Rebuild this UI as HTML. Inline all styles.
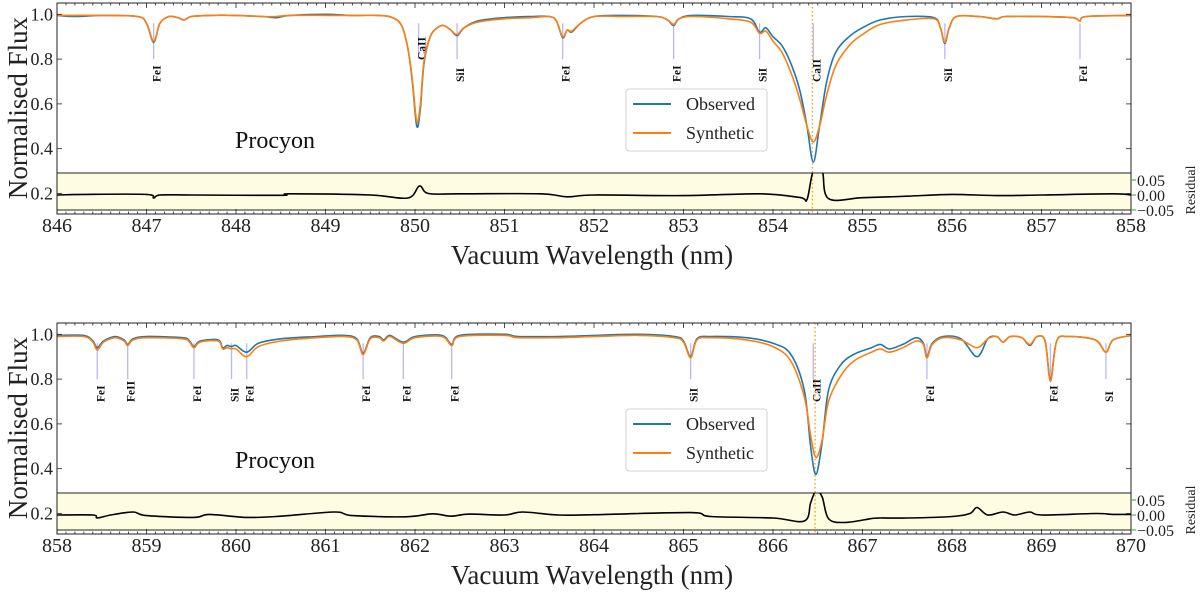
<!DOCTYPE html>
<html><head><meta charset="utf-8">
<style>
html,body{margin:0;padding:0;background:#fff;}
svg{display:block;font-family:"Liberation Serif","DejaVu Serif",serif;}
</style></head>
<body>
<svg id="chart" width="1200" height="593" viewBox="0 0 1200 593"></svg>
<script>
// ---------- data: top panel (846-858 nm) ----------
const topObsWl = [846.0,846.2,846.5,846.9,847.0,847.08,847.15,847.25,847.35,847.42,847.5,847.7,848.0,848.3,848.45,848.6,849.0,849.3,849.6,849.75,849.85,849.92,849.97,850.02,850.06,850.1,850.17,850.25,850.32,850.4,850.47,850.55,850.7,851.0,851.3,851.5,851.58,851.65,851.7,851.75,851.85,852.0,852.3,852.7,852.82,852.89,852.95,853.1,853.5,853.75,853.85,853.92,854.0,854.1,854.2,854.3,854.38,854.45,854.52,854.6,854.7,854.85,855.0,855.2,855.5,855.8,855.87,855.92,855.97,856.05,856.3,856.5,856.6,857.0,857.35,857.43,857.5,858.0];
const topObsFlux = [0.995,0.99,0.995,0.99,0.96,0.875,0.96,0.99,0.985,0.975,0.99,0.995,0.995,0.99,0.985,0.995,1.0,0.995,0.995,0.985,0.95,0.85,0.7,0.5,0.58,0.78,0.9,0.94,0.95,0.93,0.905,0.94,0.97,0.985,0.99,0.99,0.97,0.895,0.93,0.92,0.96,0.99,0.995,0.99,0.975,0.95,0.98,0.995,0.99,0.98,0.92,0.94,0.9,0.86,0.78,0.66,0.5,0.34,0.5,0.7,0.83,0.9,0.94,0.975,0.99,0.985,0.94,0.87,0.94,0.99,0.99,0.98,0.99,0.99,0.985,0.97,0.99,0.995];
const topSynFlux = [0.995,0.995,0.995,0.99,0.96,0.88,0.96,0.99,0.985,0.975,0.99,0.995,0.995,0.99,0.99,0.995,0.995,0.995,0.995,0.985,0.95,0.85,0.71,0.52,0.6,0.79,0.9,0.94,0.95,0.93,0.91,0.94,0.965,0.98,0.985,0.99,0.97,0.9,0.93,0.925,0.96,0.99,0.99,0.99,0.975,0.955,0.98,0.99,0.98,0.965,0.915,0.925,0.88,0.83,0.74,0.62,0.5,0.43,0.5,0.64,0.77,0.86,0.91,0.955,0.975,0.98,0.94,0.875,0.94,0.99,0.99,0.98,0.99,0.99,0.985,0.97,0.99,0.995];
const topResWl = [846.0,846.3,847.0,847.08,847.15,847.5,848.5,848.6,849.5,849.92,850.05,850.15,850.5,851.4,851.7,852.0,853.0,853.85,854.3,854.38,854.45,854.55,854.62,855.0,855.5,856.0,856.5,857.0,857.8,858.0];
const topResVal = [0.0,0.002,0.002,-0.01,0.0,0.0,-0.001,0.004,0.0,-0.01,0.03,0.005,0.004,0.004,-0.006,0.0,-0.002,0.004,-0.008,-0.015,0.08,0.08,-0.012,-0.009,-0.004,0.002,-0.002,0.0,0.004,0.0];

// ---------- data: bottom panel (858-870 nm) ----------
const botObsWl = [858.0,858.3,858.4,858.45,858.52,858.65,858.75,858.79,858.85,859.0,859.4,859.48,859.53,859.6,859.8,859.85,859.9,859.95,860.0,860.12,860.25,860.5,860.9,861.2,861.35,861.42,861.5,861.6,861.65,861.72,861.87,862.0,862.3,862.41,862.5,863.0,863.15,863.6,864.0,864.5,864.9,865.0,865.08,865.15,865.3,865.7,866.0,866.2,866.35,866.42,866.48,866.55,866.62,866.75,866.9,867.1,867.2,867.3,867.45,867.6,867.68,867.72,867.78,867.9,868.1,868.28,868.4,868.5,868.57,868.65,868.78,868.87,868.95,869.04,869.1,869.17,869.3,869.6,869.72,869.8,870.0];
const botObsFlux = [0.995,0.995,0.97,0.94,0.97,0.99,0.975,0.955,0.98,0.99,0.985,0.97,0.945,0.97,0.975,0.94,0.95,0.945,0.95,0.92,0.96,0.98,0.99,0.995,0.98,0.915,0.985,0.99,0.975,0.995,0.965,0.99,0.995,0.955,0.995,1.0,0.99,0.99,0.995,1.0,0.99,0.97,0.9,0.98,0.99,0.985,0.96,0.91,0.75,0.5,0.375,0.52,0.75,0.86,0.91,0.94,0.955,0.935,0.955,0.985,0.96,0.9,0.96,0.99,0.98,0.9,0.98,0.99,0.965,0.99,0.985,0.95,0.99,0.97,0.8,0.97,0.99,0.975,0.92,0.975,0.995];
const botSynFlux = [0.99,0.99,0.965,0.93,0.965,0.985,0.97,0.95,0.975,0.985,0.98,0.965,0.94,0.965,0.97,0.935,0.94,0.935,0.935,0.9,0.945,0.97,0.985,0.99,0.975,0.91,0.98,0.985,0.97,0.99,0.96,0.985,0.99,0.95,0.99,0.995,0.985,0.985,0.99,0.995,0.985,0.965,0.895,0.975,0.985,0.975,0.945,0.88,0.72,0.55,0.45,0.53,0.7,0.81,0.88,0.92,0.935,0.92,0.94,0.97,0.955,0.895,0.955,0.985,0.975,0.94,0.98,0.99,0.965,0.99,0.985,0.955,0.99,0.97,0.79,0.97,0.99,0.975,0.92,0.975,0.995];
const botResWl = [858.0,858.4,858.45,858.6,858.85,859.0,859.53,859.7,860.12,860.5,861.1,861.3,861.9,862.2,862.4,862.6,863.0,863.2,863.6,864.0,865.08,865.3,866.0,866.35,866.42,866.48,866.55,866.62,866.8,867.1,867.2,867.5,868.0,868.2,868.28,868.4,868.57,868.7,868.87,869.0,869.6,869.8,870.0];
const botResVal = [0.0,0.0,-0.01,0.0,0.01,-0.002,-0.008,0.002,-0.008,-0.004,0.01,-0.002,-0.006,0.004,-0.004,0.003,0.0,0.01,0.0,0.001,0.008,-0.005,-0.01,-0.02,0.04,0.08,0.06,-0.012,-0.025,-0.012,-0.01,-0.01,-0.005,0.005,0.025,0.0,0.01,0.0,0.01,0.0,0.005,0.002,0.002];

// ---------- line identifications ----------
const topLineWl = [847.08,850.04,850.47,851.65,852.89,853.85,854.45,855.92,857.43];
const topLineName = ["FeI","CaII","SiI","FeI","FeI","SiI","CaII","SiI","FeI"];
const topLineLabelLow = [true,false,true,true,true,true,true,true,true];
const botLineWl = [858.45,858.79,859.53,859.95,860.12,861.42,861.87,862.41,865.08,866.45,867.72,869.1,869.72];
const botLineName = ["FeI","FeII","FeI","SiI","FeI","FeI","FeI","FeI","SiI","CaII","FeI","FeI","SI"];
const topCaWl = 854.44;
const botCaWl = 866.47;

const yTicks = [0.2,0.4,0.6,0.8,1.0];
const resTicks = [0.05,0.0,-0.05];
const resTickLabels = ["0.05","0.00","\u22120.05"];

// ---------- drawing ----------
const NS = "http://www.w3.org/2000/svg";
const svg = document.getElementById("chart");
function mk(tag, attrs, parent){
  const e = document.createElementNS(NS, tag);
  for (const k in attrs) e.setAttribute(k, attrs[k]);
  (parent||svg).appendChild(e);
  return e;
}
function smoothPath(p){
  let d = "M" + p[0][0].toFixed(1) + "," + p[0][1].toFixed(1);
  for (let i=0;i<p.length-1;i++){
    const p0 = p[Math.max(0,i-1)], p1 = p[i], p2 = p[i+1], p3 = p[Math.min(p.length-1,i+2)];
    const c1x = p1[0] + (p2[0]-p0[0])/6, c1y = p1[1] + (p2[1]-p0[1])/6;
    const c2x = p2[0] - (p3[0]-p1[0])/6, c2y = p2[1] - (p3[1]-p1[1])/6;
    d += " C" + c1x.toFixed(1)+","+c1y.toFixed(1)+" "+c2x.toFixed(1)+","+c2y.toFixed(1)+" "+p2[0].toFixed(1)+","+p2[1].toFixed(1);
  }
  return d;
}
const X0 = 57, X1 = 1131;

function drawPanel(off, wl0, obsWl, obsF, synF, resWl, resV, lineWl, lineName, lowFlags, caWl, labelBase, prefix){
  const g = mk("g", {});
  
  
  const xs = w => X0 + (w - wl0) / 12 * (X1 - X0);
  const ys = v => off + 14.3 + (1 - v) * 224;
  const yr = r => off + 195 - r * 300;
  const frameTop = off + 3, frameBot = off + 214;
  const resTop = off + 173, resBot = off + 210;

  const rb = mk("rect", {x:X0, y:resTop, width:X1-X0, height:resBot-resTop, fill:"#fffde1", stroke:"#222", "stroke-width":1}, g);
  
  

  const cp = mk("clipPath", {id: prefix+"clip"}, g);
  mk("rect", {x:X0, y:frameTop, width:X1-X0, height:frameBot-frameTop}, cp);
  const cpr = mk("clipPath", {id: prefix+"clipr"}, g);
  mk("rect", {x:X0, y:resTop, width:X1-X0, height:resBot-resTop}, cpr);

  lineWl.forEach((w,i) => {
    const x = xs(w);
    const ml = mk("line", {x1:x, x2:x, y1:ys(0.96), y2:ys(0.8), stroke:"#b8b8f4", "stroke-width":1.3}, g);
    
    
    const ly = (lowFlags && !lowFlags[i]) ? off + 60 : labelBase;
    const t = mk("text", {x:0, y:0, transform:`translate(${x+4},${ly}) rotate(-90)`, "font-size":11.5, "font-weight":"bold", fill:"#111", "dominant-baseline":"central"}, g);
    t.textContent = lineName[i];
    
    
  });

  const cx = xs(caWl);
  const cl = mk("line", {x1:cx, x2:cx, y1:frameTop, y2:frameBot, stroke:"#ff9f1a", "stroke-width":1.4, "stroke-dasharray":"1.5,2.5"}, g);
  
  

  const po = mk("path", {d:smoothPath(obsWl.map((w,i)=>[xs(w), ys(obsF[i])])), fill:"none", stroke:"#1f77b4", "stroke-width":1.6, "stroke-linejoin":"round", "clip-path":`url(#${prefix}clip)`}, g);
  
  
  const ps = mk("path", {d:smoothPath(obsWl.map((w,i)=>[xs(w), ys(synF[i])])), fill:"none", stroke:"#ff7f0e", "stroke-width":1.6, "stroke-linejoin":"round", "clip-path":`url(#${prefix}clip)`}, g);
  
  

  const pr = mk("path", {d:smoothPath(resWl.map((w,i)=>[xs(w), yr(resV[i])])), fill:"none", stroke:"#000", "stroke-width":1.6, "stroke-linejoin":"round", "clip-path":`url(#${prefix}clipr)`}, g);
  
  

  const fr = mk("rect", {x:X0, y:frameTop, width:X1-X0, height:frameBot-frameTop, fill:"none", stroke:"#222", "stroke-width":1}, g);
  
  

  for (let k=0;k<=120;k++){
    const w = wl0 + k/10, x = xs(w), major = k%10===0;
    const L = major?5:2.5;
    mk("line",{x1:x,x2:x,y1:frameBot,y2:frameBot-L,stroke:"#222","stroke-width":0.8},g);
    mk("line",{x1:x,x2:x,y1:frameTop,y2:frameTop+L,stroke:"#222","stroke-width":0.8},g);
    if (major){
      const t = mk("text",{x:x,y:off+232,"font-size":20,"text-anchor":"middle",fill:"#222"},g);
      t.textContent = String(Math.round(w));
      
      
    }
  }
  yTicks.forEach(v=>{
    const y = ys(v);
    mk("line",{x1:X0,x2:X0+5,y1:y,y2:y,stroke:"#222","stroke-width":0.8},g);
    mk("line",{x1:X1,x2:X1-5,y1:y,y2:y,stroke:"#222","stroke-width":0.8},g);
    const t = mk("text",{x:X0-4,y:y+6,"font-size":18,"text-anchor":"end",fill:"#222"},g);
    t.textContent = v.toFixed(1);
    
    
  });
  resTicks.forEach((r,i)=>{
    const y = yr(r);
    mk("line",{x1:X1,x2:X1+5,y1:y,y2:y,stroke:"#2ca02c","stroke-width":1},g);
    const t = mk("text",{x:X1+6,y:y+6,"font-size":16,fill:"#222"},g);
    t.textContent = resTickLabels[i];
    
    
  });
  const rl = mk("text",{x:0,y:0,transform:`translate(1195,${off+190}) rotate(-90)`,"font-size":14,"text-anchor":"middle",fill:"#222"},g);
  rl.textContent = "Residual";
  
  

  const yl = mk("text",{x:0,y:0,transform:`translate(27,${off+108}) rotate(-90)`,"font-size":27,"text-anchor":"middle",fill:"#222"},g);
  yl.textContent = "Normalised Flux";
  
  
  const xl = mk("text",{x:592,y:off+264,"font-size":27,"text-anchor":"middle",fill:"#222"},g);
  xl.textContent = "Vacuum Wavelength (nm)";
  
  

  const st = mk("text",{x:235,y:off+148,"font-size":24,fill:"#111"},g);
  st.textContent = "Procyon";
  
  

  const lg = mk("g",{},g);
  
  
  mk("rect",{x:626,y:off+89,width:141,height:62,rx:3,fill:"#fff","fill-opacity":0.85,stroke:"#d0d0d0","stroke-width":1},lg);
  const e1 = mk("g",{},lg);
  
  
  mk("line",{x1:633,x2:671,y1:off+104,y2:off+104,stroke:"#1f77b4","stroke-width":2},e1);
  const t1 = mk("text",{x:686,y:off+110,"font-size":18,fill:"#222"},e1);
  t1.textContent = "Observed";
  const e2 = mk("g",{},lg);
  
  
  mk("line",{x1:633,x2:671,y1:off+133,y2:off+133,stroke:"#ff7f0e","stroke-width":2},e2);
  const t2 = mk("text",{x:686,y:off+139,"font-size":18,fill:"#222"},e2);
  t2.textContent = "Synthetic";
}

drawPanel(0, 846, topObsWl, topObsFlux, topSynFlux, topResWl, topResVal, topLineWl, topLineName, topLineLabelLow, topCaWl, 82, "top");
drawPanel(320, 858, botObsWl, botObsFlux, botSynFlux, botResWl, botResVal, botLineWl, botLineName, null, botCaWl, 402, "bottom");
</script>
</body></html>
